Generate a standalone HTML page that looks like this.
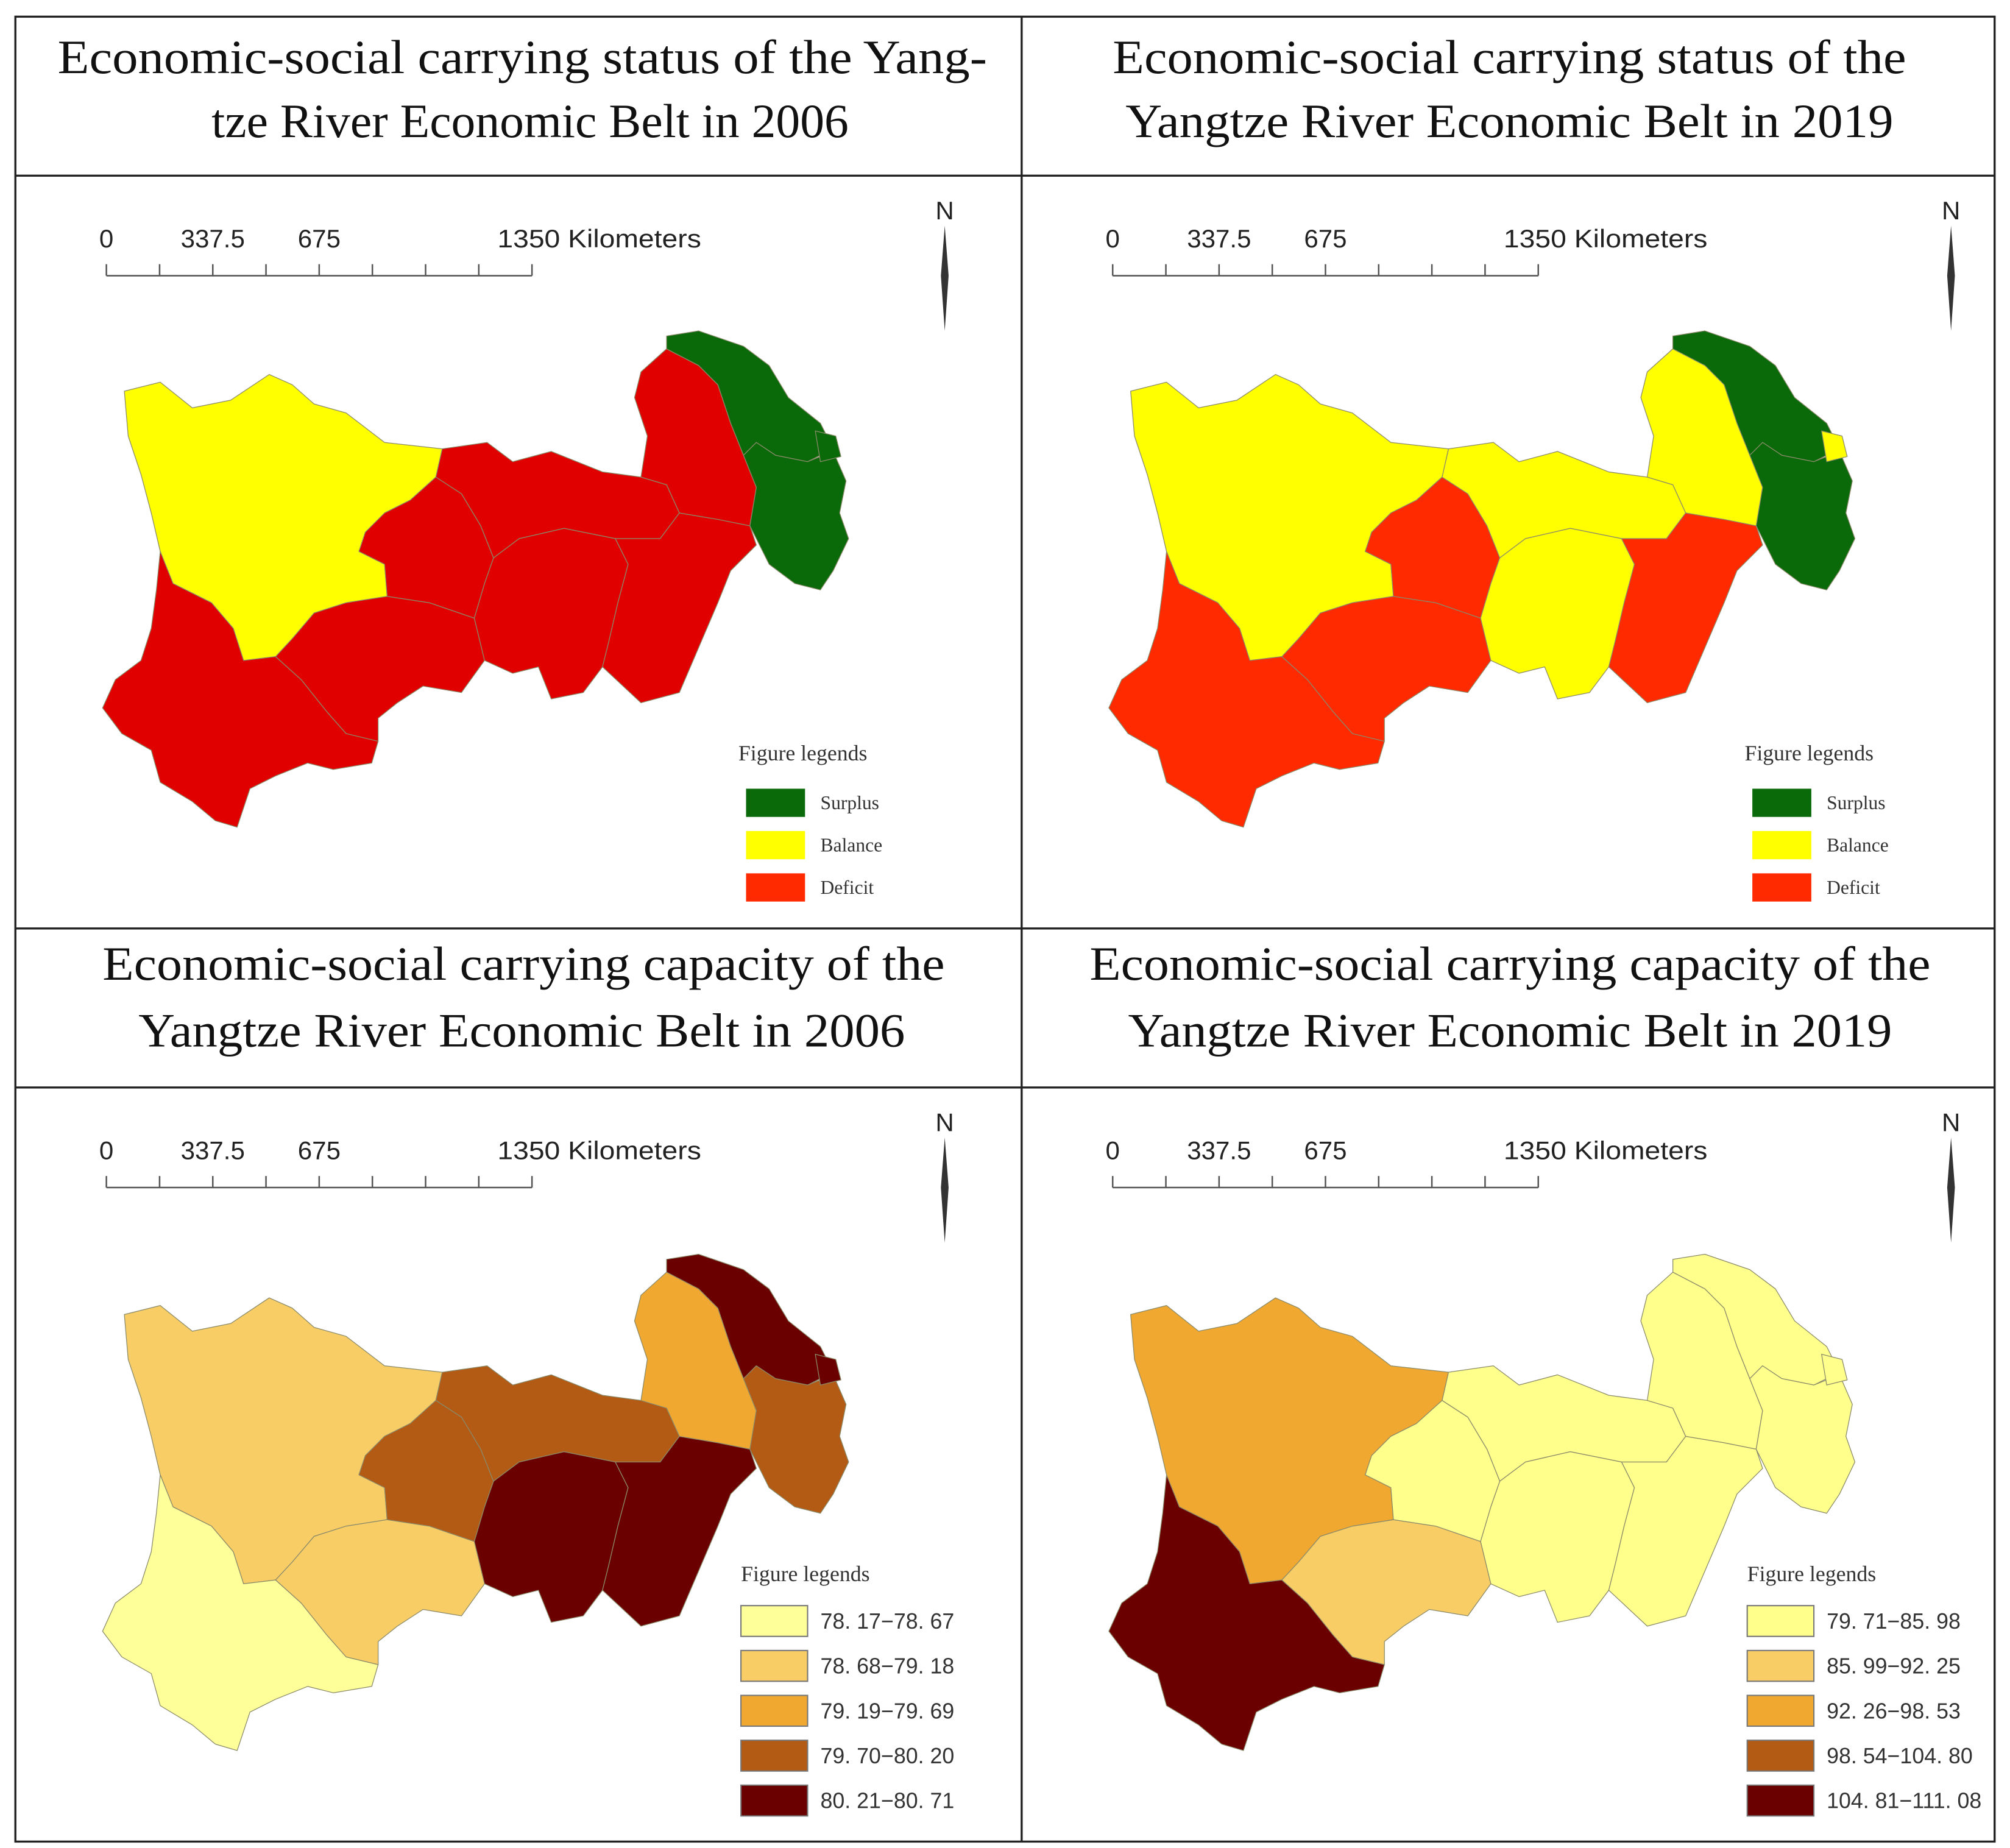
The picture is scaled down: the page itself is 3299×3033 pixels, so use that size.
<!DOCTYPE html>
<html><head><meta charset="utf-8"><style>
html,body{margin:0;padding:0;background:#fff}
svg{display:block}
.t{font-family:"Liberation Serif",serif;font-size:37px;fill:#111}
.s{font-family:"Liberation Sans",sans-serif;font-size:20px;fill:#222}
.lg{font-family:"Liberation Serif",serif;font-size:17px;fill:#333}
.ll{font-family:"Liberation Serif",serif;font-size:15px;fill:#333}
.lc{font-family:"Liberation Sans",sans-serif;font-size:17px;fill:#333}
</style></head><body>
<svg id="fig" width="3299" height="3033" viewBox="0 0 1568 1441" preserveAspectRatio="none" xmlns="http://www.w3.org/2000/svg">
<rect x="0" y="0" width="1568" height="1441" fill="#fff"/>
<g stroke="#222" stroke-width="1.6" fill="none">
<rect x="12" y="13" width="1544" height="1423"/>
<line x1="797" y1="13" x2="797" y2="1436"/>
<line x1="12" y1="137" x2="1556" y2="137"/>
<line x1="12" y1="724" x2="1556" y2="724"/>
<line x1="12" y1="848" x2="1556" y2="848"/>
</g>
<text class="t" x="45" y="57" textLength="725" lengthAdjust="spacingAndGlyphs">Economic-social carrying status of the Yang-</text>
<text class="t" x="165" y="107" textLength="497" lengthAdjust="spacingAndGlyphs">tze River Economic Belt in 2006</text>
<text class="t" x="868" y="57" textLength="619" lengthAdjust="spacingAndGlyphs">Economic-social carrying status of the</text>
<text class="t" x="878" y="107" textLength="599" lengthAdjust="spacingAndGlyphs">Yangtze River Economic Belt in 2019</text>
<text class="t" x="80" y="764" textLength="657" lengthAdjust="spacingAndGlyphs">Economic-social carrying capacity of the</text>
<text class="t" x="108" y="816" textLength="598" lengthAdjust="spacingAndGlyphs">Yangtze River Economic Belt in 2006</text>
<text class="t" x="850" y="764" textLength="656" lengthAdjust="spacingAndGlyphs">Economic-social carrying capacity of the</text>
<text class="t" x="880" y="816" textLength="596" lengthAdjust="spacingAndGlyphs">Yangtze River Economic Belt in 2019</text>
<g id="layer"></g>
</svg>
<script>
const provinces=["sichuan","yunnan","guizhou","chongqing","hubei","hunan","jiangxi","anhui","jiangsu","zhejiang","shanghai"];
const status2006=[1,2,2,2,2,2,2,2,0,0,0];
const status2019=[1,2,2,2,1,1,2,1,0,0,1];
const capacity2006=[1,0,1,3,3,4,4,2,4,3,4];
const capacity2019=[2,4,1,0,0,0,0,0,0,0,0];
const statusLabels=["Surplus","Balance","Deficit"];
const capacity2006Labels=["78. 17−78. 67","78. 68−79. 18","79. 19−79. 69","79. 70−80. 20","80. 21−80. 71"];
const capacity2019Labels=["79. 71−85. 98","85. 99−92. 25","92. 26−98. 53","98. 54−104. 80","104. 81−111. 08"];
const scaleLabels=["0","337.5","675","1350 Kilometers"];
const scaleKm=[0,337.5,675,1350];

const shapes={
sichuan:"97,305 125,298 150,318 180,312 210,292 228,300 245,315 270,322 300,345 345,350 340,372 320,390 300,400 285,415 280,430 300,440 302,465 270,470 245,478 228,498 215,512 190,515 182,490 165,470 135,455 125,430 118,400 110,370 100,340",
yunnan:"125,430 135,455 165,470 182,490 190,515 215,512 235,530 255,555 270,572 295,578 290,595 260,600 240,595 215,605 195,615 185,645 168,640 150,625 125,610 118,585 95,572 80,552 90,530 110,515 118,490 122,460",
guizhou:"215,512 228,498 245,478 270,470 302,465 335,470 370,482 378,515 360,540 330,535 310,548 295,560 295,578 270,572 255,555 235,530",
chongqing:"285,415 300,400 320,390 340,372 360,385 375,410 385,435 378,455 370,482 335,470 302,465 300,440 280,430",
hubei:"345,350 380,345 400,360 430,352 470,368 500,372 520,378 530,400 515,420 480,420 440,412 405,420 385,435 375,410 360,385 340,372",
hunan:"385,435 405,420 440,412 480,420 490,440 482,470 475,500 470,520 455,540 430,545 420,520 400,525 378,515 370,482 378,455",
jiangxi:"480,420 515,420 530,400 560,405 585,410 590,425 570,445 560,470 545,505 530,540 500,548 470,520 475,500 482,470 490,440",
anhui:"500,290 520,272 545,285 560,300 570,330 580,355 590,380 585,410 560,405 530,400 520,378 500,372 505,340 495,310",
jiangsu:"520,262 545,258 580,270 600,285 615,310 640,330 650,350 630,360 605,355 590,345 580,355 570,330 560,300 545,285 520,272",
zhejiang:"580,355 590,345 605,355 630,360 650,352 660,375 655,400 662,420 650,445 640,460 620,455 600,440 585,410 590,380",
shanghai:"636,336 652,340 656,356 640,360"
};
const statusColors=["#0a6a0a","#ffff00","#e00000"];
const statusColors19=["#0a6a0a","#ffff00","#ff2a00"];
const statusLegendColors=["#0a6a0a","#ffff00","#ff2a00"];
const capColors=["#ffff99","#f8cd66","#f0a830","#b35a14","#6b0000"];
const capColors19=["#ffff8c","#f8cd66","#f0a830","#b35a14","#6b0000"];

const NS="http://www.w3.org/2000/svg";
const layer=document.getElementById('layer');
function mk(tag,attrs,parent){const e=document.createElementNS(NS,tag);for(const k in attrs)e.setAttribute(k,attrs[k]);(parent||layer).appendChild(e);return e;}
function kmX(ox,km){return ox+83+km*(332/1350);}

const panels=[
 {id:"status-2006",dx:0,sdy:0,mdy:0,vals:status2006,cols:statusColors,labels:statusLabels,type:"s"},
 {id:"status-2019",dx:785,sdy:0,mdy:0,vals:status2019,cols:statusColors19,labels:statusLabels,type:"s"},
 {id:"capacity-2006",dx:0,sdy:711,mdy:720,vals:capacity2006,cols:capColors,labels:capacity2006Labels,type:"c"},
 {id:"capacity-2019",dx:785,sdy:711,mdy:720,vals:capacity2019,cols:capColors19,labels:capacity2019Labels,type:"c"}
];
panels.forEach(p=>{
 const g=mk('g',{transform:`translate(${p.dx},${p.mdy})`});
 
 
 provinces.forEach((pr,i)=>{
  const poly=mk('polygon',{points:shapes[pr],fill:p.cols[p.vals[i]],stroke:"#8a8a6a","stroke-width":"0.6","stroke-linejoin":"round"},g);
  
  
 });
 const sb=mk('g',{transform:`translate(${p.dx},${p.sdy})`});
 
 
 mk('line',{x1:83,y1:215,x2:kmX(0,1350),y2:215,stroke:"#555","stroke-width":1.2},sb);
 for(let k=0;k<=8;k++){const x=kmX(0,k*168.75);mk('line',{x1:x,y1:206,x2:x,y2:215,stroke:"#555","stroke-width":1.2},sb);}
 scaleLabels.forEach((l,i)=>{
  const x=kmX(0,scaleKm[i]);
  const t=mk('text',{class:"s",x:x,y:193,"text-anchor":i==3?"start":"middle"},sb);
  if(i==3){t.setAttribute('x',x-27);t.setAttribute('textLength','159');t.setAttribute('lengthAdjust','spacingAndGlyphs');}
  t.textContent=l;
  
  
 });
 const na=mk('g',{transform:`translate(${p.dx},${p.sdy})`});
 
 
 const nt=mk('text',{class:"s",x:737,y:171,"text-anchor":"middle","font-size":"13"},na);nt.textContent="N";
 mk('polygon',{points:"737,176 740,215 737,258 734,215",fill:"#333"},na);
 const lg=mk('g',{transform:`translate(${p.dx},${p.type=="s"?0:640})`});
 
 
 if(p.type=="s"){
  const tt=mk('text',{class:"lg",x:576,y:593},lg);tt.textContent="Figure legends";
  p.labels.forEach((l,i)=>{
   const y=615+i*33;
   const r=mk('rect',{x:582,y:y,width:46,height:22,fill:statusLegendColors[i]},lg);
   
   
   const t=mk('text',{class:"ll",x:640,y:y+16},lg);t.textContent=l;
   
   
  });
 } else {
  const tt=mk('text',{class:"lg",x:578,y:593},lg);tt.textContent="Figure legends";
  p.labels.forEach((l,i)=>{
   const y=612+i*35;
   const r=mk('rect',{x:578,y:y,width:52,height:24,fill:p.cols[i],stroke:"#777","stroke-width":1},lg);
   
   
   const t=mk('text',{class:"lc",x:640,y:y+18},lg);t.textContent=l;
   
   
  });
 }
});
</script>
</body></html>
